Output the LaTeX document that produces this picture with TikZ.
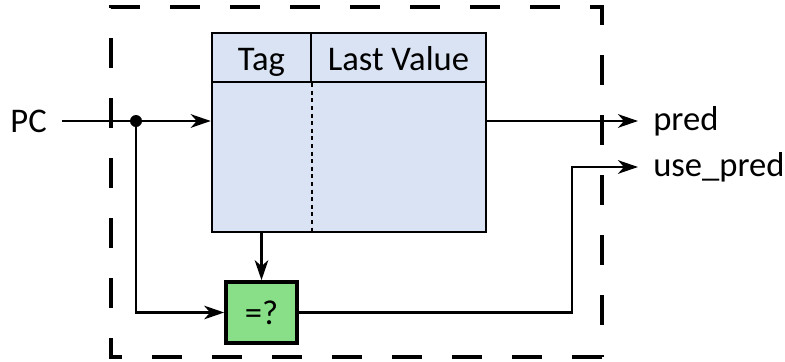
\documentclass[tikz,border=0pt]{standalone}
\usepackage{fontspec}
\setmainfont{Carlito}
\usetikzlibrary{arrows.meta,positioning}
\definecolor{tableblue}{HTML}{DAE3F3}
\definecolor{cmpgreen}{HTML}{88DF88}
\tikzset{
  wire/.style={line width=1.8pt,-{Stealth[length=0.5cm,width=0.34cm,inset=0.15cm]}},
  cell/.style={draw,line width=1.7pt,fill=tableblue,inner sep=0pt,text height=0.65cm,text depth=0pt},
  cmpbox/.style={draw,line width=2.6pt,fill=cmpgreen,inner sep=0pt,text depth=0pt,
                 minimum width=1.775cm,minimum height=1.525cm},
  dot/.style={circle,fill,inner sep=0pt,minimum size=0.3cm},
  lbl/.style={inner sep=0pt}
}
\begin{document}
\begin{tikzpicture}[x=0.025cm,y=-0.025cm,font=\fontsize{24.6}{29}\selectfont]
\useasboundingbox (0,0) rectangle (785,362);
% outer box
\draw[line width=2.8pt,dash pattern=on 0.75cm off 0.75cm] (602,357) -- (111,357) -- (111,7) -- (602,7) -- cycle;

% table
\node[cell,minimum width=6.85cm,minimum height=3.75cm] (body) at (349,157) {};
\node[cell,minimum width=2.475cm,minimum height=1.225cm] (taghead) at (261.5,57.5) {Tag};
\node[cell,minimum width=4.375cm,minimum height=1.225cm] (valhead) at (398.5,57.5) {Last Value};
\draw[line width=1.8pt,dash pattern=on 0.1cm off 0.09cm] (taghead.south east) -- (taghead.south east |- body.south);

% comparator
\node[cmpbox] (cmp) at (261.5,312.5) {=?};

% inputs
\coordinate (pcin) at (62,121);
\node[lbl,left=0.375cm of pcin] (pc) {PC};
\node[dot] (split) at (136,121) {};
\draw[wire] (pcin) -- (body.west |- pcin);
\draw[wire] (split) |- (cmp.west);
\draw[wire] (cmp.north |- body.south) -- (cmp.north);

% outputs
\coordinate (predend) at (638,121);
\coordinate (useend) at (638,167);
\coordinate (turn) at (572,167);
\node[lbl,right=0.375cm of predend] (pred) {pred};
\node[lbl,right=0.375cm of useend] (usepred) {use\_pred};
\draw[wire] (body.east |- predend) -- (predend);
\draw[wire] (cmp.east) -| (turn) -- (useend);
\end{tikzpicture}
\end{document}
